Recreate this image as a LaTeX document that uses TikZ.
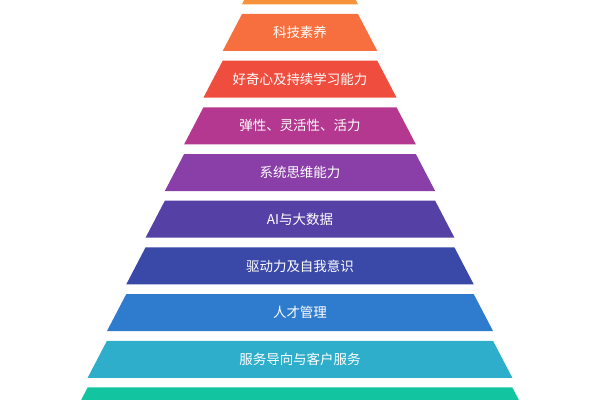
\documentclass[tikz,border=0pt]{standalone}
\usepackage{fontspec}
\newfontfamily\cjk{Noto Sans CJK SC}
\usetikzlibrary{calc}
\definecolor{c1}{HTML}{F7923A}
\definecolor{c2}{HTML}{F76F3E}
\definecolor{c3}{HTML}{EF4E3F}
\definecolor{c4}{HTML}{B4388F}
\definecolor{c5}{HTML}{8A3FA8}
\definecolor{c6}{HTML}{5541A6}
\definecolor{c7}{HTML}{3A48A8}
\definecolor{c8}{HTML}{2F7BCE}
\definecolor{c9}{HTML}{2EAECB}
\definecolor{c10}{HTML}{12C4A0}
\newcommand{\camada}[3]{% one band of the pyramid
\pgfmathsetmacro{\ytop}{10-0.025*(14+46.7*(#1-2))}
\pgfmathsetmacro{\ybot}{\ytop-0.925}
\pgfmathsetmacro{\wtop}{0.025*(58+19.3*(#1-2))}
\pgfmathsetmacro{\wbot}{\wtop+0.4825}
\fill[#2] (-\wtop,\ytop) -- (\wtop,\ytop) -- (\wbot,\ybot) -- (-\wbot,\ybot) -- cycle;
\node[label] (n#1) at (0,{(\ytop+\ybot)/2}) {#3};
}
\begin{document}
\begin{tikzpicture}[label/.style={text=white,font=\cjk\fontsize{9.6}{11}\selectfont,inner sep=0pt}]
\useasboundingbox (-7.5,0) rectangle (7.5,10);
\clip (-7.5,0) rectangle (7.5,10);
\camada{1}{c1}{}
\camada{2}{c2}{科技素养}
\camada{3}{c3}{好奇心及持续学习能力}
\camada{4}{c4}{弹性、灵活性、活力}
\camada{5}{c5}{系统思维能力}
\camada{6}{c6}{AI与大数据}
\camada{7}{c7}{驱动力及自我意识}
\camada{8}{c8}{人才管理}
\camada{9}{c9}{服务导向与客户服务}
\camada{10}{c10}{}
\end{tikzpicture}
\end{document}
